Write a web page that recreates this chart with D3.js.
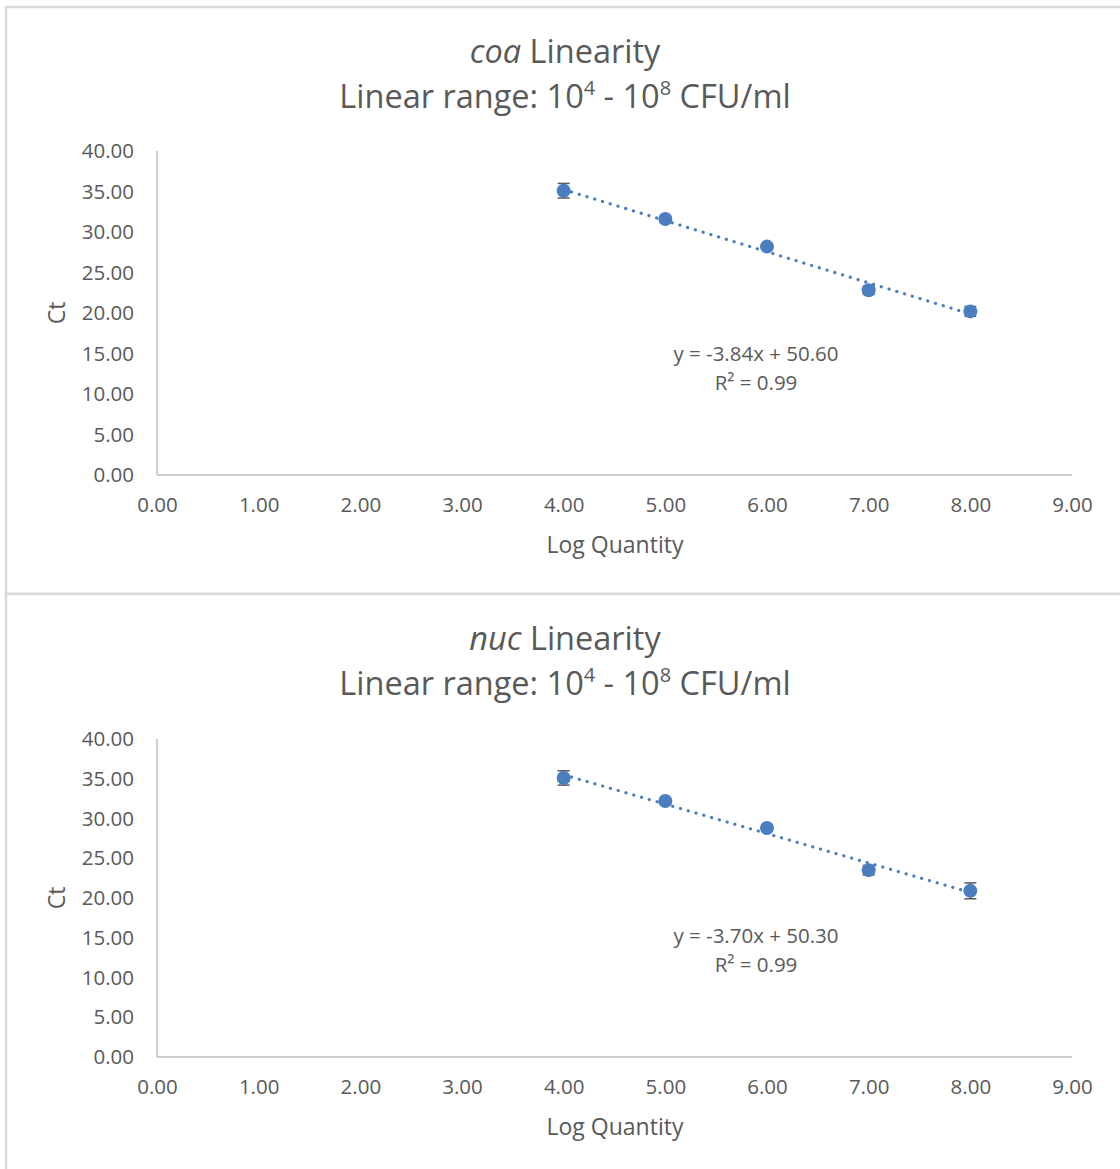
<!DOCTYPE html>
<html><head><meta charset="utf-8">
<script src="https://cdn.jsdelivr.net/npm/d3@7"></script>
<style>body{margin:0;background:#fff}svg{display:block}</style>
</head><body>
<svg id="c" width="1120" height="1169"></svg>
<script>
const genes = ["coa", "nuc"];
const logQty = [4, 5, 6, 7, 8];
const ctCoa = [35.1, 31.6, 28.2, 22.8, 20.2];
const errCoa = [0.9, 0.3, 0.3, 0.5, 0.6];
const ctNuc = [35.1, 32.2, 28.8, 23.5, 20.9];
const errNuc = [0.9, 0.3, 0.3, 0.6, 1.0];
const slopes = [-3.84, -3.70];
const intercepts = [50.60, 50.30];
const r2 = [0.99, 0.99];
const xTicks = [0,1,2,3,4,5,6,7,8,9];
const yTicks = [0,5,10,15,20,25,30,35,40];

const series = [ctCoa, ctNuc];
const errs = [errCoa, errNuc];
const svg = d3.select("#c");
const font = "'Open Sans', sans-serif";
const blue = "#4a7ebf";
const panelTop = [7, 594];

genes.forEach((g, i) => {
  const top = panelTop[i];
  const p = svg.append("g").attr("transform", `translate(0,${top})`);
  p.append("rect").attr("x", 6).attr("y", 0).attr("width", 1130).attr("height", 587 + (i ? 20 : 0))
    .attr("fill", "#fff").attr("stroke", "#d9d9d9").attr("stroke-width", 2.5);

  const x = d3.scaleLinear().domain([0, 9]).range([157, 1072]);
  const y = d3.scaleLinear().domain([0, 40]).range(i ? [463, 145] : [468, 144]);

  // title
  const t1 = p.append("text").attr("x", 565).attr("y", 56).attr("text-anchor", "middle")
    .attr("font-family", font).attr("font-size", 32.5).attr("fill", "#595959");
  t1.append("tspan").attr("font-style", "italic").text(g);
  t1.append("tspan").text(" Linearity");
  const t2 = p.append("text").attr("x", 565).attr("y", 101).attr("text-anchor", "middle")
    .attr("font-family", font).attr("font-size", 32.5).attr("fill", "#595959");
  t2.append("tspan").text("Linear range: 10");
  t2.append("tspan").attr("font-size", 20).attr("dy", -13).text("4");
  t2.append("tspan").attr("dy", 13).text(" - 10");
  t2.append("tspan").attr("font-size", 20).attr("dy", -13).text("8");
  t2.append("tspan").attr("dy", 13).text(" CFU/ml");

  // axes
  const xa = d3.axisBottom(x).tickValues(xTicks).tickSize(0).tickPadding(22).tickFormat(d3.format(".2f"));
  const ya = d3.axisLeft(y).tickValues(yTicks).tickSize(0).tickPadding(23).tickFormat(d3.format(".2f"));
  const gx = p.append("g").attr("transform", `translate(0,${y(0)})`).call(xa);
  const gy = p.append("g").attr("transform", `translate(${x(0)},0)`).call(ya);
  [gx, gy].forEach(a => {
    a.select(".domain").attr("stroke", "#bfbfbf").attr("stroke-width", 1.5);
    a.selectAll("text").attr("font-family", font).attr("font-size", 20.5).attr("fill", "#595959");
  });
  gx.select(".domain").attr("d", `M${x(0)},0H${x(9)}`);
  gy.select(".domain").attr("d", `M0,${y(40)}V${y(0)}`);

  p.append("text").attr("x", 615).attr("y", y(0) + 78).attr("text-anchor", "middle")
    .attr("font-family", font).attr("font-size", 23).attr("fill", "#595959").text("Log Quantity");
  p.append("text").attr("transform", `translate(65,${(y(0)+y(40))/2}) rotate(-90)`).attr("text-anchor", "middle")
    .attr("font-family", font).attr("font-size", 23).attr("fill", "#595959").text("Ct");

  const data = logQty.map((q, k) => ({q, ct: series[i][k], e: errs[i][k]}));

  // error bars
  const eb = p.append("g");
  data.forEach(d => {
    eb.append("line").attr("x1", x(d.q)).attr("x2", x(d.q)).attr("y1", y(d.ct - d.e)).attr("y2", y(d.ct + d.e))
      .attr("stroke", "#595959").attr("stroke-width", 1.5);
    [d.ct - d.e, d.ct + d.e].forEach(v => eb.append("line").attr("x1", x(d.q) - 6).attr("x2", x(d.q) + 6)
      .attr("y1", y(v)).attr("y2", y(v)).attr("stroke", "#595959").attr("stroke-width", 1.5));
  });

  // trendline
  const tr = [logQty[0], logQty[logQty.length - 1]].map(q => [q, slopes[i] * q + intercepts[i]]);
  p.append("path").attr("d", d3.line().x(d => x(d[0])).y(d => y(d[1]))(tr))
    .attr("stroke", blue).attr("stroke-width", 3.2).attr("stroke-dasharray", "0.1 8")
    .attr("stroke-linecap", "round").attr("fill", "none");

  p.selectAll("circle.pt").data(data).join("circle").attr("class", "pt")
    .attr("cx", d => x(d.q)).attr("cy", d => y(d.ct)).attr("r", 7).attr("fill", blue);

  // equation
  const sign = intercepts[i] >= 0 ? "+" : "-";
  p.append("text").attr("x", 756).attr("y", y(0) - 114).attr("text-anchor", "middle")
    .attr("font-family", font).attr("font-size", 20.5).attr("fill", "#595959")
    .text(`y = ${slopes[i].toFixed(2)}x ${sign} ${Math.abs(intercepts[i]).toFixed(2)}`);
  p.append("text").attr("x", 756).attr("y", y(0) - 85).attr("text-anchor", "middle")
    .attr("font-family", font).attr("font-size", 20.5).attr("fill", "#595959")
    .text(`R² = ${r2[i].toFixed(2)}`);
});
</script>
</body></html>
